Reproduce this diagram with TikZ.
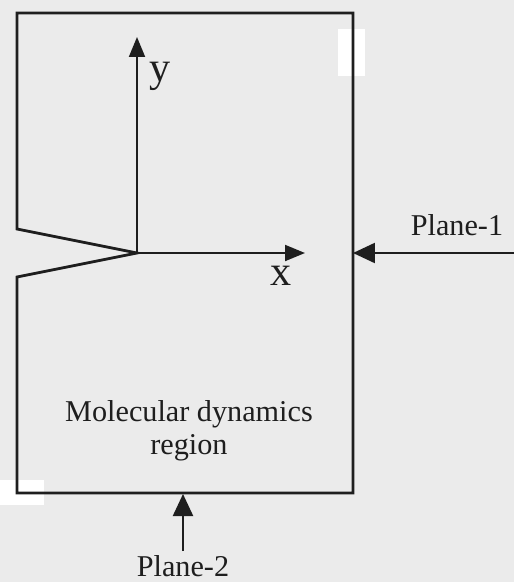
\documentclass[tikz,border=0pt]{standalone}
\usepackage{fontspec}
\setmainfont{Liberation Serif}
\usetikzlibrary{arrows.meta}
\definecolor{paper}{HTML}{EBEBEB}
\definecolor{ink}{HTML}{1E1E1E}

\begin{document}
\begin{tikzpicture}[x=0.02cm,y=-0.02cm]
  \tikzstyle{wall}=[ink,line width=1.6pt,line join=miter]
  \tikzstyle{axis}=[ink,line width=1.1pt,-{Triangle[length=0.4cm,width=0.32cm]}]
  \tikzstyle{load}=[ink,line width=1.3pt,-{Triangle[length=0.44cm,width=0.4cm]}]
  \tikzstyle{lbl}=[ink,font=\fontsize{17.2}{19}\selectfont]
  \tikzstyle{axlbl}=[ink,font=\fontsize{24}{26}\selectfont]
  \fill[paper] (0,0) rectangle (514,582);
  \useasboundingbox (0,0) rectangle (514,582);
  % scan marks
  \foreach \xa / \ya / \xb / \yb in {338/29/365/76,0/480/44/505}
     \fill[white] (\xa,\ya) rectangle (\xb,\yb);
  % region with notch
  \coordinate (tip) at (137,253);
  \draw[wall] (17,229) -- (17,13) -- (353,13) -- (353,493) -- (17,493)
     -- (17,277) -- (tip) -- cycle;
  \coordinate (ytop) at (137,37);
  \coordinate (xend) at (305,253);
  \draw[axis] (tip) -- (ytop);
  \draw[axis] (tip) -- (xend);
  \node[axlbl] (ylab) at (160,76) {y};
  \node[axlbl] (xlab) at (281,276) {x};
  % planes
  \coordinate (p1tail) at (514,253);
  \coordinate (p1head) at (353,253);
  \coordinate (p2tail) at (183,551);
  \coordinate (p2head) at (183,494);
  \draw[load] (p1tail) -- (p1head);
  \draw[load] (p2tail) -- (p2head);
  \node[lbl] (plane1) at (457,225) {Plane-1};
  \node[lbl] (plane2) at (183,566) {Plane-2};
  \node[lbl,align=center] (md) at (189,431) {Molecular dynamics\\region};
\end{tikzpicture}
\end{document}
